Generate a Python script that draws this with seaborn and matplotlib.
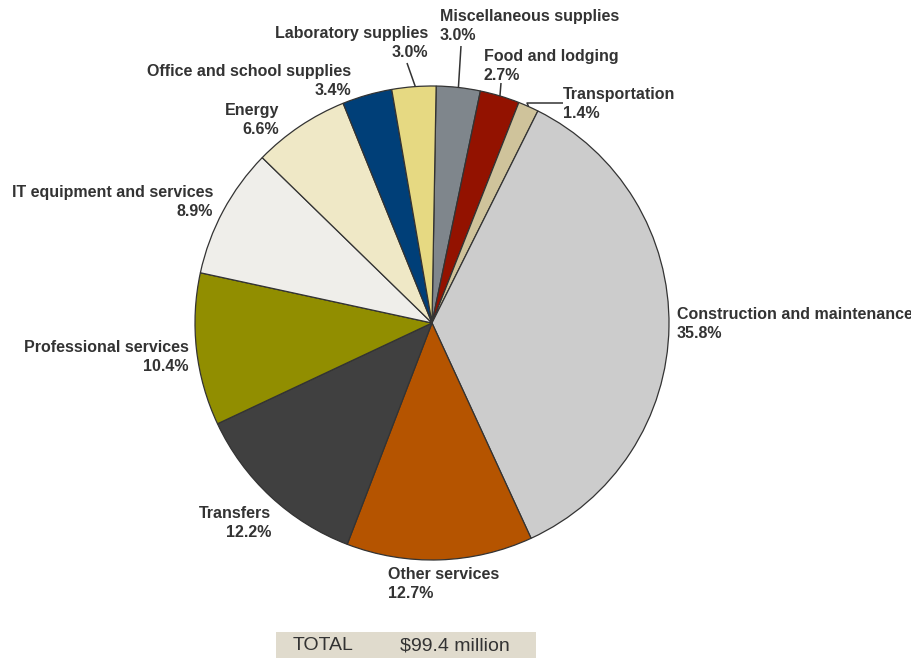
import numpy as np
import matplotlib
matplotlib.use("Agg")
import matplotlib.pyplot as plt
import seaborn as sns
from matplotlib.patches import Rectangle

# data, clockwise from 12 o'clock
categories = ["Miscellaneous supplies", "Food and lodging", "Transportation",
              "Construction and maintenance", "Other services", "Transfers",
              "Professional services", "IT equipment and services", "Energy",
              "Office and school supplies", "Laboratory supplies"]
shares = [3.0, 2.7, 1.4, 35.8, 12.7, 12.2, 10.4, 8.9, 6.6, 3.4, 3.0]
colors = ["#7f868c", "#931200", "#cfc39b", "#cccccc", "#b55400", "#404040",
          "#918e00", "#efeeea", "#efe8c6", "#003f78", "#e6d982"]
total_text = "$99.4 million"

# label layout (pixel coords from the top-left, alignment)
label_pos = {
    "Miscellaneous supplies": (440, 26, "left"),
    "Food and lodging": (484, 66, "left"),
    "Transportation": (563, 104, "left"),
    "Construction and maintenance": (677, 324, "left"),
    "Other services": (388, 584, "left"),
    "Transfers": (271, 523, "right"),
    "Professional services": (189, 357, "right"),
    "IT equipment and services": (213, 202, "right"),
    "Energy": (279, 120, "right"),
    "Office and school supplies": (351, 81, "right"),
    "Laboratory supplies": (428, 43, "right"),
}
# leader line end points for the small top slices
leaders = {
    "Laboratory supplies": [(407, 63)],
    "Miscellaneous supplies": [(461, 46)],
    "Food and lodging": [(501, 83)],
    "Transportation": [(527, 103), (563, 103)],
}

W, H = 912, 658
cx, cy, R = 432, 323, 237
start = 89
text_color = "#333333"

sns.set_theme(style="white")
plt.rcParams["font.family"] = ["Liberation Sans", "DejaVu Sans"]

fig = plt.figure(figsize=(W / 100, H / 100), dpi=100)
ax = fig.add_axes([0, 0, 1, 1])

ax.pie(shares, colors=sns.color_palette(colors), startangle=start, counterclock=False,
       center=(cx, H - cy), radius=R,
       wedgeprops=dict(edgecolor="#333333", linewidth=0.9))
ax.set_xlim(0, W)
ax.set_ylim(0, H)
ax.set_aspect("equal")
ax.axis("off")

# labels
cum = np.cumsum([0] + shares[:-1])
for name, val, c0 in zip(categories, shares, cum):
    x, y, ha = label_pos[name]
    ax.text(x, H - y, f"{name}\n{val:.1f}%", ha=ha, va="center", fontsize=11.5,
            fontweight="bold", color=text_color, linespacing=1.3, multialignment=ha)
    if name in leaders:
        mid = np.deg2rad((c0 + val / 2) / 100 * 360 + (90 - start))
        px, py = cx + R * np.sin(mid), cy - R * np.cos(mid)
        pts = [(px, py)] + leaders[name]
        ax.plot([p[0] for p in pts], [H - p[1] for p in pts], color="#333333", lw=1.1,
                solid_capstyle="butt")

# total box
ax.add_patch(Rectangle((276, 0), 260, 26, facecolor="#e0dbcd", edgecolor="none"))
ax.text(293, 12, "TOTAL", ha="left", va="center", fontsize=14, color=text_color)
ax.text(400, 12, total_text, ha="left", va="center", fontsize=14, color=text_color)

fig.savefig("out.png", dpi=100)
